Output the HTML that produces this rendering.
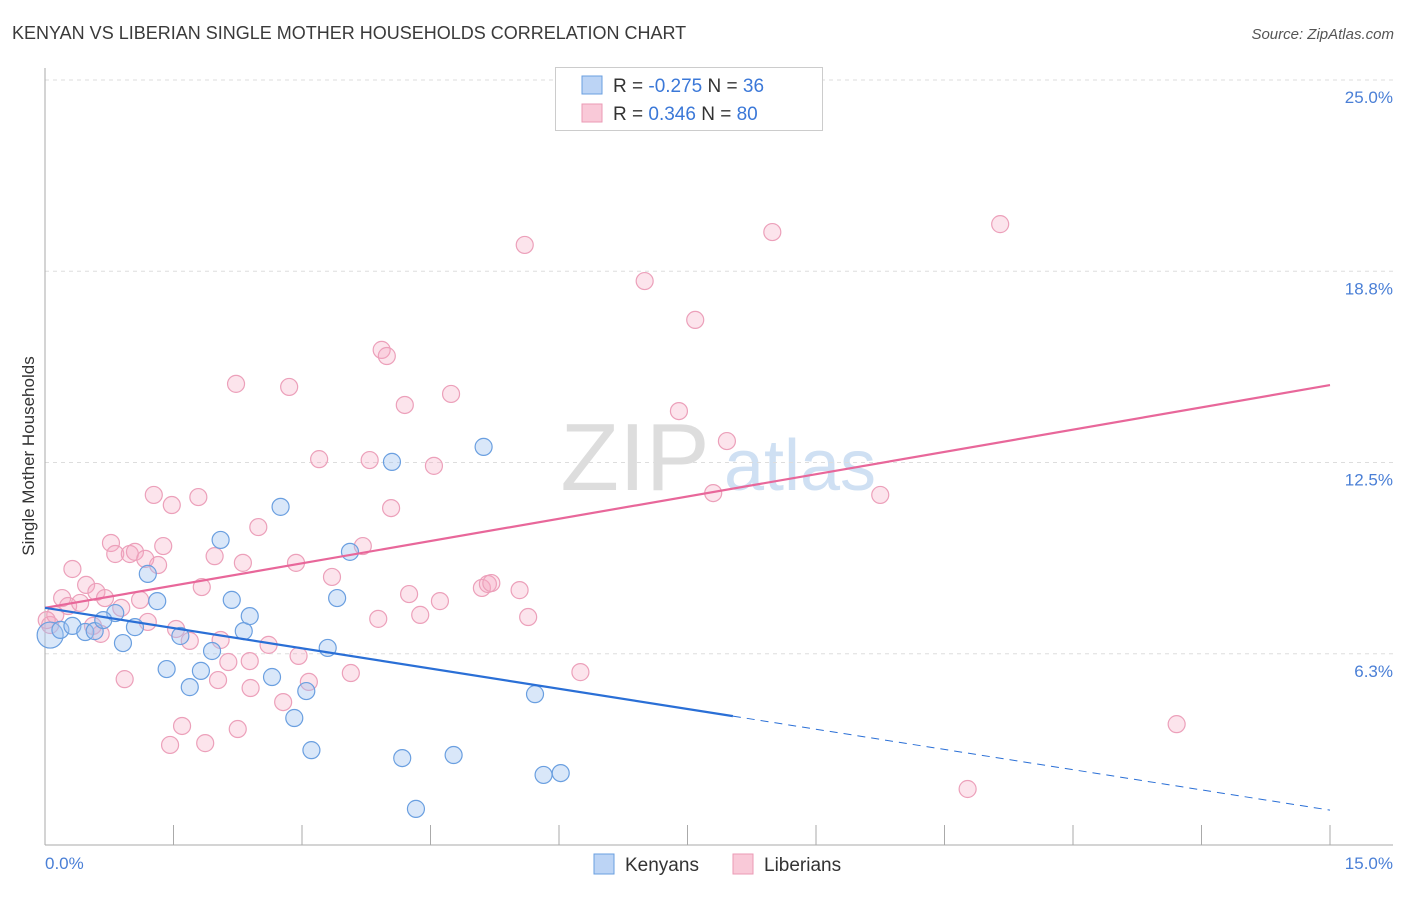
<!DOCTYPE html>
<html><head><meta charset="utf-8"><style>
body{margin:0;background:#fff;font-family:"Liberation Sans",sans-serif}
svg text{font-family:"Liberation Sans",sans-serif}
</style></head><body>
<svg id="chart" width="1406" height="892" viewBox="0 0 1406 892">
<text x="12" y="39" font-size="18" fill="#3a3a3a">KENYAN VS LIBERIAN SINGLE MOTHER HOUSEHOLDS CORRELATION CHART</text>
<text x="1394" y="39" font-size="15" fill="#555" font-style="italic" text-anchor="end">Source: ZipAtlas.com</text>
<g>
<text x="635" y="490" font-size="96" font-family="Liberation Serif" fill="#ddd" text-anchor="middle">ZIP</text>
<text x="800" y="490" font-size="72" fill="#cfe0f3" text-anchor="middle">atlas</text>
</g>
<g id="grid"></g>
<g id="axes"></g>
<g id="points"></g>
<g id="lines"></g>
<text transform="translate(34,456) rotate(-90)" font-size="17" fill="#333" text-anchor="middle">Single Mother Households</text>
<g>
<rect x="555.5" y="67.5" width="267" height="63" fill="#fff" stroke="#ccc"/>
<rect x="582" y="76" width="20" height="18" fill="#bcd4f5" stroke="#6a9fe0"/>
<rect x="582" y="104" width="20" height="18" fill="#f9c9d8" stroke="#eb9ab5"/>
<text x="613" y="92" font-size="19" fill="#333">R = <tspan fill="#3b78d8">-0.275</tspan>   N = <tspan fill="#3b78d8">36</tspan></text>
<text x="613" y="120" font-size="19" fill="#333">R =  <tspan fill="#3b78d8"> 0.346</tspan>   N = <tspan fill="#3b78d8">80</tspan></text>
</g>
<g>
<rect x="594" y="854" width="20" height="20" fill="#bcd4f5" stroke="#6a9fe0"/>
<text x="625" y="871" font-size="19" fill="#333">Kenyans</text>
<rect x="733" y="854" width="20" height="20" fill="#f9c9d8" stroke="#eb9ab5"/>
<text x="764" y="871" font-size="19" fill="#333">Liberians</text>
</g>
</svg>
<script>
const kenyanX=[0.06,0.18,0.32,0.47,0.58,0.82,0.68,0.91,1.05,1.20,1.31,1.42,1.58,1.69,1.82,1.95,2.05,2.18,2.32,2.39,2.65,2.75,2.91,3.05,3.11,3.30,3.41,3.56,4.05,4.17,4.33,4.77,5.12,5.72,5.82,6.02];
const kenyanY=[6.86,7.03,7.16,6.96,6.99,7.58,7.35,6.60,7.12,8.86,7.97,5.75,6.83,5.16,5.69,6.34,9.97,8.01,6.99,7.48,5.49,11.05,4.15,5.03,3.10,6.44,8.07,9.58,12.52,2.84,1.18,2.94,13.01,4.93,2.29,2.35];
const liberianX=[0.06,0.12,0.20,0.27,0.32,0.41,0.48,0.56,0.60,0.65,0.70,0.77,0.82,0.89,0.93,0.99,1.05,1.11,1.17,1.20,1.27,1.32,1.38,1.46,1.48,1.53,1.60,1.69,1.79,1.83,1.87,1.98,2.02,2.05,2.14,2.23,2.25,2.31,2.39,2.40,2.49,2.61,2.78,2.85,2.93,2.96,3.08,3.20,3.35,3.57,3.71,3.79,3.89,3.93,3.99,4.04,4.20,4.25,4.38,4.54,4.61,4.74,5.10,5.17,5.21,5.54,5.60,5.64,6.25,7.00,7.40,7.59,7.80,7.96,8.49,9.75,10.77,11.15,13.21,0.02];
const liberianY=[7.19,7.52,8.07,7.81,9.02,7.91,8.50,7.16,8.27,6.90,8.07,9.87,9.51,7.75,5.42,9.51,9.58,8.01,9.35,7.29,11.44,9.15,9.77,3.27,11.11,7.06,3.89,6.67,11.37,8.43,3.33,9.44,5.39,6.70,5.98,15.07,3.79,9.22,6.01,5.13,10.39,6.54,4.67,14.97,9.22,6.18,5.33,12.61,8.76,5.62,9.77,12.58,7.39,16.18,15.98,11.01,14.38,8.20,7.52,12.39,7.97,14.74,8.40,8.53,8.56,8.33,19.61,7.45,5.65,18.43,14.18,17.16,11.50,13.20,20.03,11.44,1.83,20.29,3.95,7.35];
const kenyanTrend=[7.75,-0.4407]; // intercept, slope
const liberianTrend=[7.75,0.4853];
const yTicks=[6.25,12.5,18.75,25];
const yTickLabels=["6.3%","12.5%","18.8%","25.0%"];
const xTicks=[0,1.5,3,4.5,6,7.5,9,10.5,12,13.5,15];
const X0=45,X1=1330,Y0=845,PXPER=30.6;
const sx=v=>X0+(v/15)*(X1-X0);
const sy=v=>Y0-v*PXPER;
const NS="http://www.w3.org/2000/svg";
function mk(tag,attrs,parent){const e=document.createElementNS(NS,tag);for(const k in attrs)e.setAttribute(k,attrs[k]);parent.appendChild(e);return e;}
const grid=document.getElementById('grid'),axes=document.getElementById('axes'),pts=document.getElementById('points'),lines=document.getElementById('lines');
yTicks.forEach((t,i)=>{
 const l=mk('line',{x1:X0,x2:1393,y1:sy(t),y2:sy(t),stroke:'#ddd','stroke-dasharray':'4,4'},grid);
 
 
 const tx=mk('text',{x:1393,y:sy(t)+23,'font-size':17,fill:'#4a7fd6','text-anchor':'end'},axes);
 tx.textContent=yTickLabels[i];
 
 
});
const ax=mk('line',{x1:X0,x2:X0,y1:68,y2:Y0,stroke:'#aaa'},axes);


const bx=mk('line',{x1:X0,x2:1393,y1:Y0,y2:Y0,stroke:'#aaa'},axes);


xTicks.forEach(t=>{
 const l=mk('line',{x1:sx(t),x2:sx(t),y1:825,y2:Y0,stroke:'#aaa'},axes);
 
 
});
const xl0=mk('text',{x:45,y:869,'font-size':17,fill:'#4a7fd6'},axes);xl0.textContent='0.0%';


const xl1=mk('text',{x:1393,y:869,'font-size':17,fill:'#4a7fd6','text-anchor':'end'},axes);xl1.textContent='15.0%';


liberianX.forEach((v,i)=>{
 const c=mk('circle',{cx:sx(v),cy:sy(liberianY[i]),r:8.5,fill:'rgba(245,165,192,0.3)',stroke:'#eca0ba','stroke-width':1.2},pts);
 
 
});
kenyanX.forEach((v,i)=>{
 const c=mk('circle',{cx:sx(v),cy:sy(kenyanY[i]),r:i===0?13:8.5,fill:'rgba(160,195,240,0.4)',stroke:'#6a9fe0','stroke-width':1.2},pts);
 
 
});
const lt=mk('line',{x1:sx(0),y1:sy(liberianTrend[0]),x2:sx(15),y2:sy(liberianTrend[0]+15*liberianTrend[1]),stroke:'#e8679a','stroke-width':2.2},lines);


const kEnd=8.03;
const kt=mk('line',{x1:sx(0),y1:sy(kenyanTrend[0]),x2:sx(kEnd),y2:sy(kenyanTrend[0]+kEnd*kenyanTrend[1]),stroke:'#2a6fd6','stroke-width':2.2},lines);


const kd=mk('line',{x1:sx(kEnd),y1:sy(kenyanTrend[0]+kEnd*kenyanTrend[1]),x2:sx(15),y2:sy(kenyanTrend[0]+15*kenyanTrend[1]),stroke:'#2a6fd6','stroke-width':1,'stroke-dasharray':'8,6'},lines);


</script>
</body></html>
